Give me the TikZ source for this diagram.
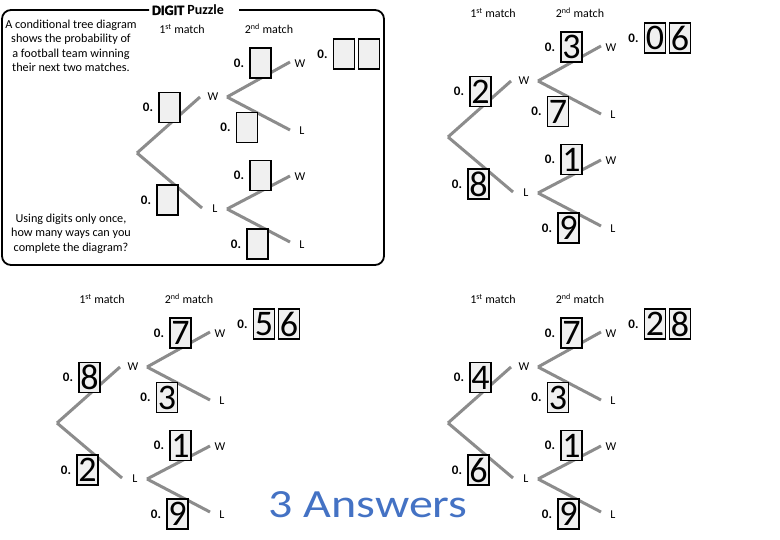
\documentclass[tikz,border=0pt]{standalone}
\usepackage{fontspec}
\usepackage{graphicx}
\setmainfont{Carlito}
\newfontfamily\heavyfont{Carlito}[BoldFeatures={FakeBold=2.5}]
\definecolor{ansblue}{HTML}{4472C4}
\definecolor{boxfill}{HTML}{F0F0F0}
\definecolor{branchgray}{HTML}{8C8C8C}
\tikzset{
  branch/.style={draw=branchgray, line width=3pt},
  digitbox/.style={draw=black, line width=1.6pt, fill=boxfill, minimum width=21pt, minimum height=30pt, inner sep=0pt, font=\fontsize{36}{36}\selectfont},
  zero/.style={font=\bfseries\fontsize{13}{13}\selectfont, inner sep=0pt, anchor=east},
  lab/.style={font=\fontsize{12}{12}\selectfont, inner sep=0pt},
  header/.style={font=\fontsize{12}{12}\selectfont, inner sep=0pt},
  info/.style={font=\fontsize{12.2}{14.2}\selectfont, align=center, inner sep=0pt, anchor=north},
}
\newcommand\probtree[9]{%
  \node[header] (#1-h1) at (182,29) {1\textsuperscript{st} match};
  \node[header] (#1-h2) at (269,29) {2\textsuperscript{nd} match};
  \coordinate (#1-r) at (137,153);
  \coordinate (#1-we) at (200,97);
  \coordinate (#1-le) at (202,208);
  \coordinate (#1-ws) at (227,97);
  \coordinate (#1-ls) at (227,209);
  \coordinate (#1-wwe) at (290,62);
  \coordinate (#1-wle) at (290,130);
  \coordinate (#1-lwe) at (290,176);
  \coordinate (#1-lle) at (290,242);
  \node[lab] (#1-w) at (213,97) {W};
  \node[lab] (#1-l) at (215,209) {L};
  \node[lab] (#1-ww) at (300,64) {W};
  \node[lab] (#1-wl) at (302,131) {L};
  \node[lab] (#1-lw) at (300,177) {W};
  \node[lab] (#1-ll) at (302,245) {L};
  \draw[branch] (#1-r) -- (#1-we);
  \draw[branch] (#1-r) -- (#1-le);
  \draw[branch] (#1-ws) -- (#1-wwe);
  \draw[branch] (#1-ws) -- (#1-wle);
  \draw[branch] (#1-ls) -- (#1-lwe);
  \draw[branch] (#1-ls) -- (#1-lle);
  \node[digitbox] (#1-b1) at (169.5,107.5) {#2};
  \node[digitbox] (#1-b2) at (167.5,200) {#3};
  \node[digitbox] (#1-b3) at (260.5,63) {#4};
  \node[digitbox] (#1-b4) at (247,127.5) {#5};
  \node[digitbox] (#1-b5) at (260.5,175.5) {#6};
  \node[digitbox] (#1-b6) at (257.5,244) {#7};
  \node[zero] (#1-z1) at ([xshift=-5pt]#1-b1.west) {0.};
  \node[zero] (#1-z2) at ([xshift=-5pt]#1-b2.west) {0.};
  \node[zero] (#1-z3) at ([xshift=-5pt]#1-b3.west) {0.};
  \node[zero] (#1-z4) at ([xshift=-5pt]#1-b4.west) {0.};
  \node[zero] (#1-z5) at ([xshift=-5pt]#1-b5.west) {0.};
  \node[zero] (#1-z6) at ([xshift=-5pt]#1-b6.west) {0.};
  \node[digitbox] (#1-a1) at (344,54) {#8};
  \node[digitbox] (#1-a2) at (369,54) {#9};
  \node[zero] (#1-za) at ([xshift=-5pt]#1-a1.west) {0.};
}
\begin{document}
\begin{tikzpicture}[x=1pt,y=-1pt]
  \useasboundingbox (0,0) rectangle (780,540);
  % frame of the puzzle
  \draw[line width=1.8pt, rounded corners=9pt] (149,10) -- (2,10) -- (2,265) -- (384,265) -- (384,10) -- (239,10);
  \node[inner sep=0pt, font=\fontsize{14}{14}\selectfont] (title) at (188,10) {{\heavyfont\bfseries DIGIT} \textbf{Puzzle}};
  \node[info] (intro) at (71,20) {A conditional tree diagram\\shows the probability of\\a football team winning\\their next two matches.};
  \node[info] (question) at (71,214) {Using digits only once,\\how many ways can you\\complete the diagram?};
  \probtree{t}{}{}{}{}{}{}{}{}
  \begin{scope}[shift={(311,-16)}]
    \probtree{a}{2}{8}{3}{7}{1}{9}{0}{6}
  \end{scope}
  \begin{scope}[shift={(-80,270)}]
    \probtree{b}{8}{2}{7}{3}{1}{9}{5}{6}
  \end{scope}
  \begin{scope}[shift={(311,270)}]
    \probtree{c}{4}{6}{7}{3}{1}{9}{2}{8}
  \end{scope}
  \node[font=\fontsize{40}{40}\selectfont, text=ansblue, inner sep=0pt] (answers) at (368,505) {\scalebox{1.2}[1]{3 Answers}};
\end{tikzpicture}
\end{document}
